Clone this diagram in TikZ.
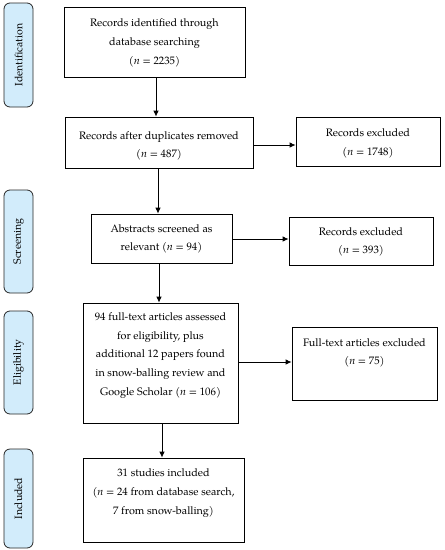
\documentclass[tikz,border=0pt]{standalone}
\usepackage{fontspec}
\setmainfont{texgyrepagella}[Extension=.otf, UprightFont=*-regular, ItalicFont=*-italic, BoldFont=*-bold]
\usetikzlibrary{arrows.meta}
\definecolor{sidefill}{RGB}{210,236,251}
\begin{document}
\begin{tikzpicture}[x=1pt,y=-1pt,
  box/.style={draw=black, line width=0.8pt, inner sep=0pt},
  txt/.style={align=center, inner sep=0pt, font=\fontsize{10.8}{18.7}\selectfont},
  side/.style={draw=black!85, line width=0.8pt, fill=sidefill, rounded corners=6pt, rotate=90,
     minimum height=29pt, inner sep=0pt, font=\fontsize{10.6}{12}\selectfont},
  arr/.style={line width=0.8pt, -{Latex[length=6pt,width=5.5pt]}}]
\useasboundingbox (0,0) rectangle (445,550);
% side labels
\node[side, minimum width=104pt] (s1) at (18.5,55) {Identification};
\node[side, minimum width=103pt] (s2) at (18.5,241.5) {Screening};
\node[side, minimum width=103pt] (s3) at (18.5,362.5) {Eligibility};
\node[side, minimum width=99pt] (s4) at (18.5,498.5) {Included};
% boxes
\node[box, minimum width=181pt, minimum height=70pt] (b1) at (154.5,42) {};
\node[txt] (t1) at (154.5,43) {Records identified through\\database searching\\(\textit{n} = 2235)};
\node[box, minimum width=188pt, minimum height=51pt] (b2) at (159,142.5) {};
\node[txt] (t2) at (159,146) {Records after duplicates removed\\(\textit{n} = 487)};
\node[box, minimum width=144pt, minimum height=49pt] (e1) at (368,141.5) {};
\node[txt] (te1) at (368,143.5) {Records excluded\\(\textit{n} = 1748)};
\node[box, minimum width=141pt, minimum height=49pt] (b3) at (161.5,238.5) {};
\node[txt] (t3) at (161.5,239) {Abstracts screened as\\relevant (\textit{n} = 94)};
\node[box, minimum width=144pt, minimum height=48pt] (e2) at (361,241) {};
\node[txt] (te2) at (361,242) {Records excluded\\(\textit{n} = 393)};
\node[box, minimum width=155pt, minimum height=120pt] (b4) at (160.5,363) {};
\node[txt] (t4) at (160.5,355.5) {94 full-text articles assessed\\for eligibility, plus\\additional 12 papers found\\in snow-balling review and\\Google Scholar (\textit{n} = 106)};
\node[box, minimum width=145pt, minimum height=73pt] (e3) at (364.5,363.5) {};
\node[txt] (te3) at (364.5,353) {Full-text articles excluded\\(\textit{n} = 75)};
\node[box, minimum width=161pt, minimum height=84pt] (b5) at (163.5,500) {};
\node[txt] (t5) at (163.5,493) {31 studies included\\(\textit{n} = 24 from database search,\\7 from snow-balling)};
% helper coordinates
\coordinate (v1) at (156,0);
\coordinate (v2) at (158,0);
\coordinate (v3) at (159,0);
\coordinate (v4) at (162,0);
\coordinate (h1) at (0,145);
\coordinate (h2) at (0,239);
\coordinate (h3) at (0,362);
% connectors
\draw[arr] (v1 |- b1.south) -- (v1 |- b2.north);
\draw[arr] (b2.east |- h1) -- (e1.west |- h1);
\draw[arr] (v2 |- b2.south) -- (v2 |- b3.north);
\draw[arr] (b3.east |- h2) -- (e2.west |- h2);
\draw[arr] (v3 |- b3.south) -- (v3 |- b4.north);
\draw[arr] (b4.east |- h3) -- (e3.west |- h3);
\draw[arr] (v4 |- b4.south) -- (v4 |- b5.north);
\end{tikzpicture}
\end{document}
